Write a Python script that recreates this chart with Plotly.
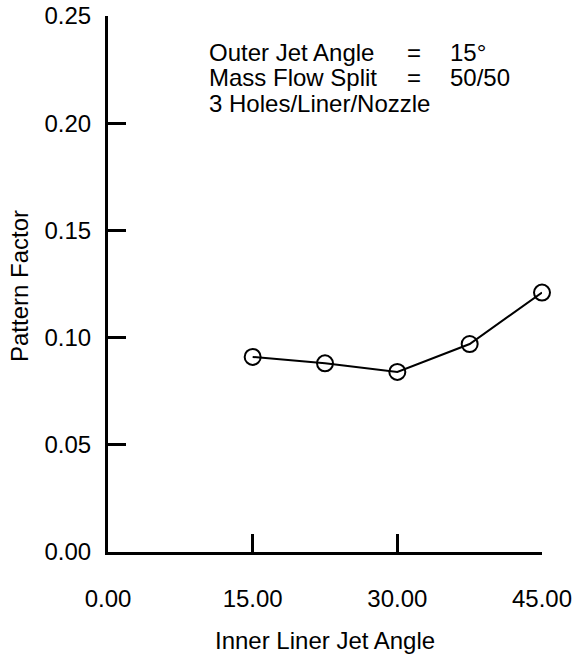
import plotly.graph_objects as go

# Inner liner jet angle (deg) vs. measured pattern factor
inner_angle = [15.0, 22.5, 30.0, 37.5, 45.0]
pattern_factor = [0.091, 0.088, 0.084, 0.097, 0.121]

x_ticks = [0, 15, 30, 45]
y_ticks = [0.00, 0.05, 0.10, 0.15, 0.20, 0.25]

note_labels = ["Outer Jet Angle", "Mass Flow Split"]
note_values = ["15°", "50/50"]
note_extra = "3 Holes/Liner/Nozzle"

FONT = "Liberation Sans, Arial, Helvetica, sans-serif"
FS = 24

fig = go.Figure()
fig.add_trace(go.Scatter(
    x=inner_angle, y=pattern_factor,
    mode="lines+markers",
    line=dict(color="black", width=2),
    marker=dict(symbol="circle-open", size=16, color="black",
                line=dict(width=2, color="black")),
    showlegend=False,
    cliponaxis=False,
))

W, H = 574, 654
L, R, T, B = 108, 32, 16, 102

fig.update_layout(
    width=W, height=H,
    margin=dict(l=L, r=R, t=T, b=B, autoexpand=False),
    paper_bgcolor="white", plot_bgcolor="white",
    font=dict(family=FONT, size=FS, color="black"),
    xaxis=dict(
        range=[0, 45], tickvals=x_ticks, tickformat=".2f",
        showline=True, linecolor="black", linewidth=3,
        ticks="inside", ticklen=18, tickwidth=3, tickcolor="black",
        showgrid=False, zeroline=False, ticklabelstandoff=23,
        automargin=False,
    ),
    yaxis=dict(
        range=[0, 0.25], tickvals=y_ticks, tickformat=".2f",
        showline=True, linecolor="black", linewidth=3,
        ticks="inside", ticklen=18, tickwidth=3, tickcolor="black",
        showgrid=False, zeroline=False, ticklabelstandoff=9,
        automargin=False,
    ),
)

ph = H - T - B

def py(pix):
    # pixel row -> paper y
    return (H - B - pix) / ph

annotations = [
    dict(text="Inner Liner Jet Angle", xref="paper", yref="paper",
         x=0.5, y=py(640), xanchor="center", yanchor="middle",
         showarrow=False, font=dict(size=FS)),
    dict(text="Pattern Factor", xref="paper", yref="paper",
         x=-(L - 19) / (W - L - R), y=py(286), xanchor="center", yanchor="middle",
         textangle=-90, showarrow=False, font=dict(size=FS)),
]

rows_y = [0.2332, 0.2213, 0.2094]
for i, (lab, val) in enumerate(zip(note_labels, note_values)):
    annotations.append(dict(text=lab, x=10.24, y=rows_y[i], xref="x", yref="y",
                            xanchor="left", yanchor="middle", showarrow=False))
    annotations.append(dict(text="=", x=31.76, y=rows_y[i], xref="x", yref="y",
                            xanchor="center", yanchor="middle", showarrow=False))
    annotations.append(dict(text=val, x=35.3, y=rows_y[i], xref="x", yref="y",
                            xanchor="left", yanchor="middle", showarrow=False))
annotations.append(dict(text=note_extra, x=10.24, y=rows_y[2], xref="x", yref="y",
                        xanchor="left", yanchor="middle", showarrow=False))

fig.update_layout(annotations=annotations)
fig.write_html("out.html")
